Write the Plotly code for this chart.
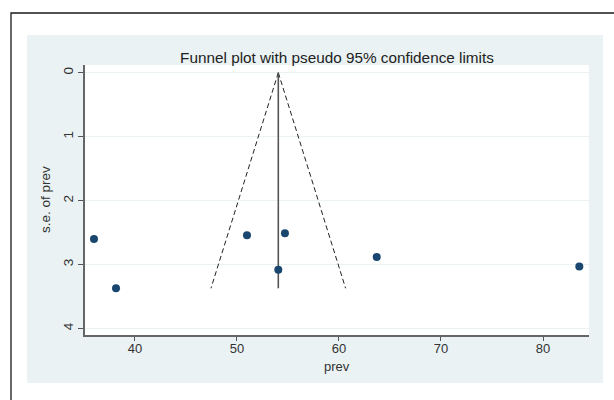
import plotly.graph_objects as go

# Study estimates (prevalence) and their standard errors
prev = [35.98, 38.14, 50.98, 54.70, 54.05, 63.70, 83.56]
se_prev = [2.60, 3.37, 2.54, 2.51, 3.08, 2.88, 3.03]

# Pooled estimate line and pseudo 95% confidence limits
pooled_x = [54.05, 54.05]
pooled_se = [0.0, 3.37]
limit_left_x = [54.05, 47.45]
limit_right_x = [54.05, 60.65]
limit_se = [0.0, 3.37]

x_ticks = [40, 50, 60, 70, 80]
y_ticks = [0, 1, 2, 3, 4]

title_text = "Funnel plot with pseudo 95% confidence limits"
x_title = "prev"
y_title = "s.e. of prev"

W, H = 614, 400
L, R, T, B = 85, 25, 65, 65
pw, ph = W - L - R, H - T - B


def px(xp):
    return (xp - L) / pw


def py(yp):
    return (H - B - yp) / ph


fig = go.Figure()

fig.add_trace(go.Scatter(x=limit_left_x, y=limit_se, mode="lines",
                         line=dict(color="#222222", width=1, dash="5px,3px"),
                         showlegend=False, hoverinfo="skip"))
fig.add_trace(go.Scatter(x=limit_right_x, y=limit_se, mode="lines",
                         line=dict(color="#222222", width=1, dash="5px,3px"),
                         showlegend=False, hoverinfo="skip"))
fig.add_trace(go.Scatter(x=pooled_x, y=pooled_se, mode="lines",
                         line=dict(color="#555555", width=1.6),
                         showlegend=False, hoverinfo="skip"))
fig.add_trace(go.Scatter(x=prev, y=se_prev, mode="markers",
                         marker=dict(color="#1a476f", size=8),
                         showlegend=False))

shapes = [
    # light panel (graph region)
    dict(type="rect", xref="paper", yref="paper", layer="below",
         x0=px(27), x1=px(603), y0=py(383), y1=py(35),
         fillcolor="#eaf2f3", line=dict(width=0)),
    # white plot region
    dict(type="rect", xref="paper", yref="paper", layer="below",
         x0=0, x1=1, y0=0, y1=1,
         fillcolor="white", line=dict(width=0)),
    # outer black frame
    dict(type="rect", xref="paper", yref="paper", layer="above",
         x0=px(11), x1=px(640), y0=py(430), y1=py(13),
         fillcolor="rgba(0,0,0,0)", line=dict(color="#1a1a1a", width=1.3)),
]

annotations = [
    dict(text=x_title, xref="paper", yref="paper", x=0.5, y=py(357),
         xanchor="center", yanchor="top", showarrow=False,
         font=dict(size=13, color="#333333")),
    dict(text=y_title, xref="paper", yref="paper", x=px(45), y=py(200),
         xanchor="center", yanchor="middle", showarrow=False, textangle=-90,
         font=dict(size=13.5, color="#333333")),
]

fig.update_layout(
    width=W, height=H,
    margin=dict(l=L, r=R, t=T, b=B, autoexpand=False),
    paper_bgcolor="white",
    plot_bgcolor="white",
    font=dict(family="Liberation Sans, Arial, sans-serif", color="#333333", size=13),
    title=dict(text=title_text, x=(L + pw / 2) / W, xanchor="center",
               y=1 - 58 / H, yanchor="middle",
               font=dict(size=15.3, color="#222222")),
    shapes=shapes,
    annotations=annotations,
    showlegend=False,
)

fig.update_xaxes(
    range=[35.10, 84.51], tickvals=x_ticks, ticks="outside", ticklen=4,
    tickwidth=1.3, tickcolor="#555555", showline=True, linecolor="#666666",
    linewidth=1.5, showgrid=False, zeroline=False,
    tickfont=dict(size=13, color="#333333"), ticklabelstandoff=-3,
)
fig.update_yaxes(
    range=[4.10, -0.12], tickvals=y_ticks, ticks="outside", ticklen=5,
    tickwidth=1.3, tickcolor="#555555", showline=True, linecolor="#666666",
    linewidth=1.5, showgrid=True, gridcolor="#eaf2f3", gridwidth=1,
    zeroline=False, tickangle=-90,
    tickfont=dict(size=13.5, color="#333333"),
)

fig.write_html(
    "out.html",
    config={"displayModeBar": False},
    post_script="document.body.style.margin='0';document.body.style.overflow='hidden';",
)
